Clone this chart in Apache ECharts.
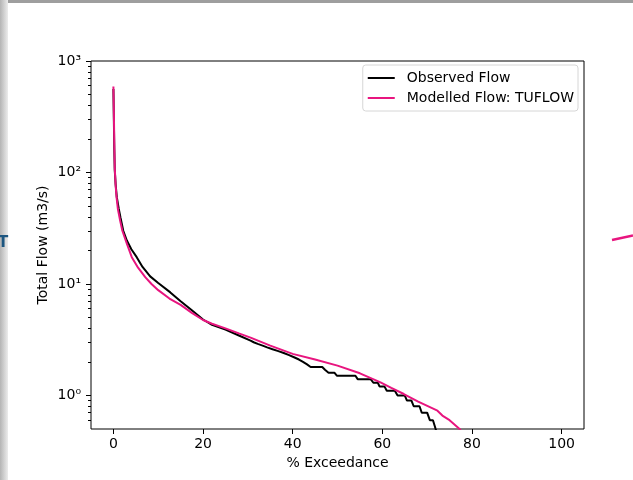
<!DOCTYPE html>
<html>
<head>
<meta charset="utf-8">
<script src="https://cdn.jsdelivr.net/npm/echarts@6/dist/echarts.min.js"></script>
<style>
  html, body { margin: 0; padding: 0; background: #fff; }
  #chart { width: 633px; height: 480px; }
</style>
</head>
<body>
<div id="chart"></div>
<script>
// observed flow duration curve, stepped at 0.1 m3/s in the low range
const obsX = [0, 0.1, 0.2, 0.3, 0.5, 0.76, 1.2, 1.6, 2.2, 3, 4, 5.2, 6.5, 8.2, 10, 12.7, 15, 17.5, 20, 22, 25, 28, 30.6,
  31.3, 32.2, 33.3, 34.3, 35.5, 36.8, 38, 39.2, 40.3, 41.4, 42.3, 43.2, 44, 46.6, 47.2, 48, 49.3,
  49.9, 54, 54.5, 57.4, 58, 59, 59.4, 60.5, 61, 62.8, 63.4, 65, 65.5, 66.5, 67, 68.3, 68.8, 70, 70.6, 71.3, 71.9, 72.3];
const obsY = [560, 300, 160, 105, 78, 60, 47, 39, 30, 24.5, 20.5, 17.4, 14.2, 11.7, 10.2, 8.4, 7.0, 5.8, 4.8, 4.3, 3.9, 3.45, 3.1,
  3.0, 2.9, 2.8, 2.7, 2.6, 2.5, 2.4, 2.3, 2.2, 2.1, 2.0, 1.9, 1.8, 1.8, 1.7, 1.6, 1.6,
  1.5, 1.5, 1.4, 1.4, 1.3, 1.3, 1.2, 1.2, 1.1, 1.1, 1.0, 1.0, 0.9, 0.9, 0.8, 0.8, 0.7, 0.7, 0.6, 0.6, 0.5, 0.45];

// modelled flow (TUFLOW)
const modX = [0, 0.1, 0.2, 0.3, 0.5, 0.7, 1.0, 1.5, 2, 3, 4.1, 5.5, 7.1, 8.5, 10, 12.5, 15, 17.5, 20, 22, 25, 28, 30.6,
  35, 40, 45, 50, 55, 59.6, 62, 64.8, 68, 72.3, 73.4, 75, 77.5];
const modY = [590, 350, 180, 110, 76, 60, 47, 37, 30, 23, 17.4, 14, 11.5, 10, 8.8, 7.4, 6.5, 5.5, 4.75, 4.4, 4.0, 3.6, 3.3,
  2.8, 2.36, 2.1, 1.85, 1.58, 1.31, 1.17, 1.03, 0.88, 0.73, 0.66, 0.6, 0.49];

const xTicks = [0, 20, 40, 60, 80, 100];
const yMajor = [1, 10, 100, 1000];
const yMinor = [0.6, 0.7, 0.8, 0.9, 2, 3, 4, 5, 6, 7, 8, 9, 20, 30, 40, 50, 60, 70, 80, 90,
  200, 300, 400, 500, 600, 700, 800, 900];
const sup = ['⁰', '¹', '²', '³'];

const yMin = 0.5, yMax = 1000;
const pink = '#e8157f';
const font = 'DejaVu Sans';

const zip = (xs, ys) => xs.map((x, i) => [x, ys[i]]);

const box = { left: 91, top: 61, right: 49, bottom: 51 };

const myChart = echarts.init(document.getElementById('chart'));
myChart.setOption({
  animation: false,
  textStyle: { fontFamily: font },
  graphic: [
    // bits of the screen behind the figure
    { type: 'rect', left: 0, top: 0, shape: { width: 633, height: 3 }, style: { fill: '#9e9e9e' }, silent: true },
    {
      type: 'rect', left: 0, top: 0, shape: { width: 8, height: 480 }, silent: true,
      style: { fill: new echarts.graphic.LinearGradient(0, 0, 1, 0, [{ offset: 0, color: '#b4b4b4' }, { offset: 1, color: '#ececec' }]) }
    },
    { type: 'text', left: -2, top: 236, style: { text: 'T', fill: '#1d5680', font: 'bold 15px DejaVu Sans' }, silent: true },
    { type: 'line', shape: { x1: 612, y1: 240, x2: 633, y2: 235.5 }, style: { stroke: pink, lineWidth: 2.5 }, silent: true }
  ],
  grid: [
    Object.assign({ show: true, borderColor: '#000', borderWidth: 1, backgroundColor: 'transparent' }, box),
    Object.assign({}, box),
    Object.assign({}, box)
  ],
  legend: {
    data: ['Observed Flow', 'Modelled Flow: TUFLOW'],
    orient: 'vertical',
    right: 55,
    top: 65,
    icon: 'path://M0,0H27V2H0Z',
    itemWidth: 27,
    itemHeight: 14,
    itemGap: 6,
    padding: [6, 4, 6, 5],
    borderColor: '#d6d6d6',
    borderWidth: 1,
    borderRadius: 3,
    backgroundColor: '#fff',
    textStyle: { fontSize: 14, color: '#000', fontFamily: font, padding: [0, 0, 0, 7] }
  },
  xAxis: [
    {
      type: 'value', gridIndex: 0, min: -5, max: 105,
      name: '% Exceedance', nameLocation: 'middle', nameGap: 25,
      nameTextStyle: { fontSize: 14, color: '#000' },
      axisLine: { show: false },
      axisTick: { show: true, length: 5, lineStyle: { color: '#000', width: 1 }, customValues: xTicks },
      axisLabel: { fontSize: 14, color: '#000', margin: 8, customValues: xTicks },
      splitLine: { show: false }
    },
    { type: 'value', gridIndex: 1, min: 0, max: 1, show: false },
    { type: 'value', gridIndex: 2, min: 0, max: 1, show: false }
  ],
  yAxis: [
    {
      type: 'log', gridIndex: 0, min: yMin, max: yMax,
      axisLine: { show: false }, axisTick: { show: false }, axisLabel: { show: false }, splitLine: { show: false }
    },
    {
      // major ticks and labels, drawn on a log10 scale
      type: 'value', gridIndex: 1, min: Math.log10(yMin), max: Math.log10(yMax),
      name: 'Total Flow (m3/s)', nameLocation: 'middle', nameGap: 41, nameMoveOverlap: false,
      nameTextStyle: { fontSize: 14, color: '#000' },
      axisLine: { show: false },
      axisTick: { show: true, length: 5, lineStyle: { color: '#000', width: 1 }, customValues: yMajor.map(Math.log10) },
      axisLabel: {
        fontSize: 14, color: '#000', margin: 10,
        customValues: yMajor.map(Math.log10),
        formatter: v => '10' + sup[Math.round(v)]
      },
      splitLine: { show: false }
    },
    {
      // minor ticks
      type: 'value', gridIndex: 2, min: Math.log10(yMin), max: Math.log10(yMax),
      axisLine: { show: false },
      axisTick: { show: true, length: 3, lineStyle: { color: '#000', width: 1 }, customValues: yMinor.map(Math.log10) },
      axisLabel: { show: false },
      splitLine: { show: false }
    }
  ],
  series: [
    {
      name: 'Observed Flow', type: 'line', xAxisIndex: 0, yAxisIndex: 0,
      data: zip(obsX, obsY), symbol: 'none', clip: true,
      lineStyle: { color: '#000', width: 2 }, itemStyle: { color: '#000' }
    },
    {
      name: 'Modelled Flow: TUFLOW', type: 'line', xAxisIndex: 0, yAxisIndex: 0,
      data: zip(modX, modY), symbol: 'none', clip: true,
      lineStyle: { color: pink, width: 2 }, itemStyle: { color: pink }
    }
  ]
});
</script>
</body>
</html>
